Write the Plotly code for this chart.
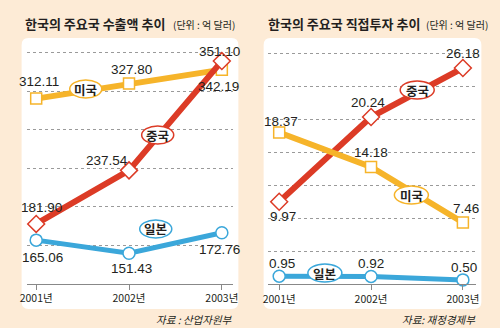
import plotly.graph_objects as go

# ---- data ----
years = ["2001년", "2002년", "2003년"]
export_us = [312.11, 327.80, 342.19]
export_cn = [181.90, 237.54, 351.10]
export_jp = [165.06, 151.43, 172.76]
fdi_us = [18.37, 14.18, 7.46]
fdi_cn = [9.97, 20.24, 26.18]
fdi_jp = [0.95, 0.92, 0.50]

W, H = 500, 328
BG = "#fdebd6"
RED = "#dc3b26"
YEL = "#f6b42a"
BLUE = "#3ba7da"
TXT = "#231f20"
NUMFONT = "Liberation Sans, Arial, sans-serif"
KFONT = "Noto Sans CJK KR, Noto Sans, sans-serif"


def px(x):
    return x / W


def py(y):
    return 1 - y / H


fig = go.Figure()

def add_series(xa, ya, vals, color, symbol, msize, lw):
    fig.add_trace(go.Scatter(
        x=years, y=vals, xaxis=xa, yaxis=ya, mode="lines+markers",
        line=dict(color=color, width=lw),
        marker=dict(symbol=symbol, size=msize, color="white",
                    line=dict(color=color, width=1.5)),
        cliponaxis=False, hoverinfo="skip", showlegend=False))

# left panel
add_series("x", "y", export_jp, BLUE, "circle", 12, 5)
add_series("x", "y", export_us, YEL, "square", 11, 6)
add_series("x", "y", export_cn, RED, "diamond", 13, 6)
# right panel
add_series("x2", "y2", fdi_jp, BLUE, "circle", 12, 5)
add_series("x2", "y2", fdi_cn, RED, "diamond", 13, 6)
add_series("x2", "y2", fdi_us, YEL, "square", 11, 6)

annotations = []

def val_label(xa, ya, xi, v, text, xs, ys):
    annotations.append(dict(
        x=years[xi], y=v, xref=xa, yref=ya, text=text, showarrow=False,
        xanchor="center", yanchor="middle",
        xshift=xs, yshift=ys, font=dict(family=NUMFONT, size=13.5, color=TXT)))

# left value labels (text, offsets)
val_label("x", "y", 0, export_us[0], f"{export_us[0]:.2f}", 3, 17)
val_label("x", "y", 1, export_us[1], f"{export_us[1]:.2f}", 2, 14)
val_label("x", "y", 2, export_us[2], f"{export_us[2]:.2f}", -3, -17)
val_label("x", "y", 0, export_cn[0], f"{export_cn[0]:.2f}", 5, 16)
val_label("x", "y", 1, export_cn[1], f"{export_cn[1]:.2f}", -22, 10)
val_label("x", "y", 2, export_cn[2], f"{export_cn[2]:.2f}", -2, 10)
val_label("x", "y", 0, export_jp[0], f"{export_jp[0]:.2f}", 6, -17)
val_label("x", "y", 1, export_jp[1], f"{export_jp[1]:.2f}", 2, -15)
val_label("x", "y", 2, export_jp[2], f"{export_jp[2]:.2f}", -2, -17)
# right value labels
val_label("x2", "y2", 0, fdi_us[0], f"{fdi_us[0]:.2f}", 2, 11)
val_label("x2", "y2", 1, fdi_us[1], f"{fdi_us[1]:.2f}", 0, 15)
val_label("x2", "y2", 2, fdi_us[2], f"{fdi_us[2]:.2f}", 3, 14)
val_label("x2", "y2", 0, fdi_cn[0], f"{fdi_cn[0]:.2f}", 4, -15)
val_label("x2", "y2", 1, fdi_cn[1], f"{fdi_cn[1]:.2f}", -3, 15)
val_label("x2", "y2", 2, fdi_cn[2], f"{fdi_cn[2]:.2f}", 0, 15)
val_label("x2", "y2", 0, fdi_jp[0], f"{fdi_jp[0]:.2f}", 3, 13)
val_label("x2", "y2", 1, fdi_jp[1], f"{fdi_jp[1]:.2f}", 0, 13)
val_label("x2", "y2", 2, fdi_jp[2], f"{fdi_jp[2]:.2f}", 1, 12)

shapes = []

def panel(x0, y0, x1, y1, r=7):
    X0, X1 = px(x0), px(x1)
    Y0, Y1 = py(y0), py(y1)
    rx, ry = r / W, r / H
    path = (f"M {X0+rx},{Y0} L {X1-rx},{Y0} Q {X1},{Y0} {X1},{Y0-ry} "
            f"L {X1},{Y1+ry} Q {X1},{Y1} {X1-rx},{Y1} L {X0+rx},{Y1} "
            f"Q {X0},{Y1} {X0},{Y1+ry} L {X0},{Y0-ry} Q {X0},{Y0} {X0+rx},{Y0} Z")
    shapes.append(dict(type="path", path=path, xref="paper", yref="paper",
                       fillcolor="white", line=dict(width=0), layer="below"))

panel(14, 38, 237, 309)
panel(263, 38, 487, 309)

def tag(cx, cy, text, color, w=33, h=18):
    shapes.append(dict(type="circle", xref="paper", yref="paper",
                       x0=px(cx - w / 2), x1=px(cx + w / 2),
                       y0=py(cy + h / 2), y1=py(cy - h / 2),
                       fillcolor="white", line=dict(color=color, width=1.5),
                       layer="above"))
    annotations.append(dict(x=px(cx), y=py(cy), xref="paper", yref="paper",
                            xanchor="center", yanchor="middle",
                            text=f"<b>{text}</b>", showarrow=False,
                            font=dict(family=KFONT, size=12.5, color=TXT)))

tag(80, 89, "미국", YEL)
tag(154, 135, "중국", RED)
tag(152, 229, "일본", BLUE)
tag(421, 90, "중국", RED, 35)
tag(415, 195, "미국", YEL, 35)
tag(326, 273, "일본", BLUE, 35)

# titles
for x0, t in [(15, "한국의 주요국 수출액 추이"), (265, "한국의 주요국 직접투자 추이")]:
    annotations.append(dict(x=px(x0), y=py(24), xref="paper", yref="paper",
                            xanchor="left", yanchor="middle",
                            text=f"<b>{t}</b>", showarrow=False,
                            font=dict(family=KFONT, size=13, color=TXT)))
for x0 in [168, 428]:
    annotations.append(dict(x=px(x0), y=py(25), xref="paper", yref="paper",
                            xanchor="left", yanchor="middle",
                            text="(단위 : 억 달러)", showarrow=False,
                            font=dict(family=KFONT, size=10, color=TXT)))
# sources
for x1, t in [(234, "자료 : 산업자원부"), (484, "자료: 재정경제부")]:
    annotations.append(dict(x=px(x1), y=py(319), xref="paper", yref="paper",
                            xanchor="right", yanchor="middle",
                            text=t, showarrow=False,
                            font=dict(family=KFONT, size=10.5, color=TXT, style="italic")))

# axes geometry (pixel-derived)
AX_Y = 283.5
TOP = 40
xcommon = dict(type="category", showgrid=False, zeroline=False, showline=True,
               linecolor="#888", linewidth=1, ticks="outside", ticklen=5,
               tickcolor="#888", tickfont=dict(family=KFONT, size=10.5, color=TXT),
               fixedrange=True)
ycommon = dict(showticklabels=False, showline=False, zeroline=False, ticks="",
               showgrid=True, gridcolor="#9a9a9a", gridwidth=1, griddash="dot",
               fixedrange=True)

fig.update_layout(
    width=W, height=H, margin=dict(l=0, r=0, t=0, b=0),
    paper_bgcolor=BG, plot_bgcolor="rgba(0,0,0,0)",
    xaxis=dict(domain=[px(20), px(231)], range=[-9 / 95.5, 2 + 11 / 95.5], anchor="y", **xcommon),
    yaxis=dict(domain=[py(AX_Y), py(TOP)], range=[120, 120 + (AX_Y - TOP) / 0.9625],
               tickvals=[160, 200, 240, 280, 320, 360], anchor="x", **ycommon),
    xaxis2=dict(domain=[px(268), px(481)], range=[-11 / 94.5, 2 + 13 / 94.5], anchor="y2", **xcommon),
    yaxis2=dict(domain=[py(284), py(TOP)], range=[0, (284 - TOP) / 8.25],
                tickvals=[4, 8, 12, 16, 20, 24, 28], anchor="x2", **ycommon),
    shapes=shapes, annotations=annotations,
)

fig.write_html("out.html")
